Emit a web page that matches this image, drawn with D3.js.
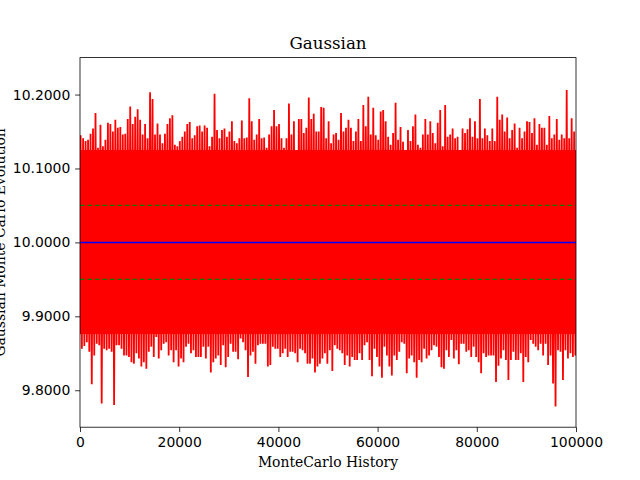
<!DOCTYPE html>
<html>
<head>
<meta charset="utf-8">
<script src="https://d3js.org/d3.v7.min.js"></script>
<style>
  body { margin: 0; background: #fff; }
</style>
</head>
<body>
<div id="chart"></div>
<script>
// history summarised in bins of 500 samples: highest and lowest value seen in each bin
var historyStep = 500;
var peakHi = [
  10.145, 10.141, 10.137, 10.139, 10.147, 10.154, 10.175, 10.128, 10.159, 10.130,
  10.139, 10.162, 10.160, 10.150, 10.166, 10.155, 10.156, 10.146, 10.147, 10.167,
  10.184, 10.160, 10.170, 10.180, 10.166, 10.146, 10.160, 10.141, 10.203, 10.194,
  10.146, 10.161, 10.146, 10.134, 10.147, 10.160, 10.168, 10.172, 10.132, 10.130,
  10.137, 10.143, 10.150, 10.160, 10.163, 10.141, 10.145, 10.157, 10.158, 10.150,
  10.158, 10.155, 10.130, 10.143, 10.201, 10.152, 10.141, 10.152, 10.154, 10.143,
  10.150, 10.164, 10.137, 10.134, 10.141, 10.165, 10.141, 10.142, 10.195, 10.164,
  10.139, 10.146, 10.167, 10.141, 10.142, 10.128, 10.146, 10.157, 10.179, 10.157,
  10.160, 10.141, 10.128, 10.141, 10.188, 10.146, 10.164, 10.125, 10.167, 10.167,
  10.148, 10.155, 10.196, 10.167, 10.174, 10.150, 10.150, 10.183, 10.182, 10.141,
  10.164, 10.134, 10.146, 10.148, 10.139, 10.175, 10.150, 10.155, 10.166, 10.155,
  10.137, 10.150, 10.167, 10.137, 10.186, 10.157, 10.197, 10.146, 10.182, 10.145,
  10.139, 10.177, 10.179, 10.164, 10.143, 10.132, 10.148, 10.189, 10.139, 10.156,
  10.136, 10.123, 10.152, 10.137, 10.157, 10.173, 10.132, 10.128, 10.146, 10.167,
  10.146, 10.164, 10.148, 10.134, 10.162, 10.179, 10.130, 10.186, 10.143, 10.146,
  10.154, 10.141, 10.143, 10.123, 10.154, 10.148, 10.153, 10.168, 10.143, 10.164,
  10.141, 10.194, 10.141, 10.154, 10.145, 10.137, 10.154, 10.137, 10.197, 10.166,
  10.173, 10.150, 10.169, 10.141, 10.152, 10.161, 10.128, 10.155, 10.141, 10.150,
  10.164, 10.163, 10.148, 10.168, 10.132, 10.160, 10.155, 10.155, 10.132, 10.171,
  10.141, 10.146, 10.167, 10.139, 10.146, 10.141, 10.206, 10.141, 10.168, 10.150
];
var peakLo = [
  9.856, 9.860, 9.865, 9.852, 9.808, 9.847, 9.863, 9.861, 9.782, 9.856,
  9.854, 9.856, 9.852, 9.780, 9.861, 9.861, 9.856, 9.847, 9.847, 9.845,
  9.838, 9.836, 9.850, 9.843, 9.832, 9.838, 9.829, 9.852, 9.859, 9.845,
  9.872, 9.843, 9.854, 9.863, 9.865, 9.847, 9.854, 9.838, 9.854, 9.832,
  9.843, 9.838, 9.859, 9.863, 9.850, 9.854, 9.845, 9.845, 9.845, 9.859,
  9.843, 9.859, 9.824, 9.838, 9.843, 9.847, 9.834, 9.861, 9.831, 9.845,
  9.863, 9.852, 9.852, 9.842, 9.870, 9.865, 9.854, 9.818, 9.847, 9.852,
  9.836, 9.861, 9.863, 9.863, 9.863, 9.832, 9.834, 9.859, 9.856, 9.856,
  9.845, 9.850, 9.856, 9.845, 9.852, 9.852, 9.850, 9.838, 9.856, 9.854,
  9.850, 9.836, 9.836, 9.843, 9.824, 9.832, 9.836, 9.843, 9.850, 9.836,
  9.854, 9.826, 9.861, 9.856, 9.854, 9.850, 9.834, 9.847, 9.832, 9.845,
  9.841, 9.841, 9.850, 9.841, 9.861, 9.865, 9.841, 9.819, 9.856, 9.845,
  9.832, 9.817, 9.859, 9.847, 9.832, 9.820, 9.847, 9.841, 9.852, 9.865,
  9.863, 9.823, 9.843, 9.847, 9.838, 9.817, 9.841, 9.838, 9.856, 9.843,
  9.847, 9.854, 9.861, 9.859, 9.845, 9.831, 9.829, 9.854, 9.845, 9.868,
  9.843, 9.854, 9.835, 9.863, 9.863, 9.852, 9.854, 9.845, 9.859, 9.845,
  9.838, 9.823, 9.850, 9.845, 9.847, 9.847, 9.847, 9.811, 9.833, 9.843,
  9.854, 9.841, 9.814, 9.841, 9.852, 9.841, 9.841, 9.850, 9.811, 9.845,
  9.838, 9.868, 9.863, 9.859, 9.854, 9.863, 9.847, 9.863, 9.834, 9.847,
  9.809, 9.778, 9.854, 9.852, 9.814, 9.854, 9.843, 9.850, 9.845, 9.847
];
// range that nearly every pixel column covers
var denseBand = [9.876, 10.125];
var meanValue = 10.0;
var sigmaLines = [9.95, 10.05];
var xTicks = [0, 20000, 40000, 60000, 80000, 100000];
var yTicks = [9.8, 9.9, 10.0, 10.1, 10.2];

var W = 640, H = 480;
var margin = {top: 57.6, right: 64, bottom: 52.8, left: 80};
var width = W - margin.left - margin.right,
    height = H - margin.top - margin.bottom;

var svg = d3.select("#chart").append("svg")
  .attr("width", W)
  .attr("height", H);

var g = svg.append("g")
  .attr("transform", "translate(" + margin.left + "," + margin.top + ")");

var x = d3.scaleLinear().domain([0, 100000]).range([0, width]);
var y = d3.scaleLinear().domain([9.75, 10.25]).range([height, 0]);

g.append("clipPath").attr("id", "plotclip")
  .append("rect").attr("width", width).attr("height", height);

var plot = g.append("g").attr("clip-path", "url(#plotclip)");

// solid core of the trace
plot.append("rect")
  .attr("x", x(0))
  .attr("width", x(100000) - x(0))
  .attr("y", y(denseBand[1]))
  .attr("height", y(denseBand[0]) - y(denseBand[1]))
  .attr("fill", "#ff0000");

// spikes: up to the bin maximum, down to the bin minimum
var pts = [];
peakHi.forEach(function(v, i) {
  pts.push([i * historyStep + 0.25 * historyStep, v]);
  pts.push([i * historyStep + 0.75 * historyStep, peakLo[i]]);
});

var line = d3.line()
  .x(function(d) { return x(d[0]); })
  .y(function(d) { return y(d[1]); });

plot.append("path")
  .datum(pts)
  .attr("d", line)
  .attr("fill", "none")
  .attr("stroke", "#ff0000")
  .attr("stroke-width", 1.8)
  .attr("stroke-linejoin", "bevel");

var overlay = g.append("g").attr("clip-path", "url(#plotclip)");

overlay.selectAll("line.sigma")
  .data(sigmaLines)
  .enter().append("line")
  .attr("class", "sigma")
  .attr("x1", x(0)).attr("x2", x(100000))
  .attr("y1", function(d) { return y(d); })
  .attr("y2", function(d) { return y(d); })
  .style("stroke", "#008000")
  .style("stroke-width", "1.3px")
  .style("stroke-dasharray", "4.5 3");

overlay.append("line")
  .attr("x1", x(0)).attr("x2", x(100000))
  .attr("y1", y(meanValue)).attr("y2", y(meanValue))
  .style("stroke", "#0000ff")
  .style("stroke-width", "1.5px");

// axes
var xAxis = d3.axisBottom(x).tickValues(xTicks).tickFormat(d3.format("d"))
  .tickSizeInner(4.86).tickSizeOuter(0).tickPadding(4.86);
var yAxis = d3.axisLeft(y).tickValues(yTicks).tickFormat(d3.format(".4f"))
  .tickSizeInner(4.86).tickSizeOuter(0).tickPadding(4.86);

var gx = g.append("g").attr("transform", "translate(0," + height + ")").call(xAxis);
var gy = g.append("g").call(yAxis);

[gx, gy].forEach(function(a) {
  a.select(".domain").remove();
  a.selectAll(".tick line").attr("stroke", "#000").attr("stroke-width", 0.8);
  a.selectAll(".tick text")
    .attr("font-family", "DejaVu Sans")
    .attr("font-size", 13.9)
    .attr("fill", "#000");
});

// spines
g.append("rect")
  .attr("width", width).attr("height", height)
  .attr("fill", "none")
  .attr("stroke", "#000")
  .attr("stroke-width", 0.8);

// labels
svg.append("text")
  .attr("x", margin.left + width / 2)
  .attr("y", 49.3)
  .attr("text-anchor", "middle")
  .attr("font-family", "DejaVu Serif")
  .attr("font-size", 16.7)
  .text("Gaussian");

svg.append("text")
  .attr("x", margin.left + width / 2)
  .attr("y", 466.5)
  .attr("text-anchor", "middle")
  .attr("font-family", "DejaVu Serif")
  .attr("font-size", 13.9)
  .text("MonteCarlo History");

// the reference places this label partly past the left edge of the figure
svg.append("text")
  .attr("transform", "translate(5," + (margin.top + height / 2) + ") rotate(-90)")
  .attr("text-anchor", "middle")
  .attr("font-family", "DejaVu Serif")
  .attr("font-size", 13.9)
  .text("Gaussian Monte Carlo Evolution");
</script>
</body>
</html>
